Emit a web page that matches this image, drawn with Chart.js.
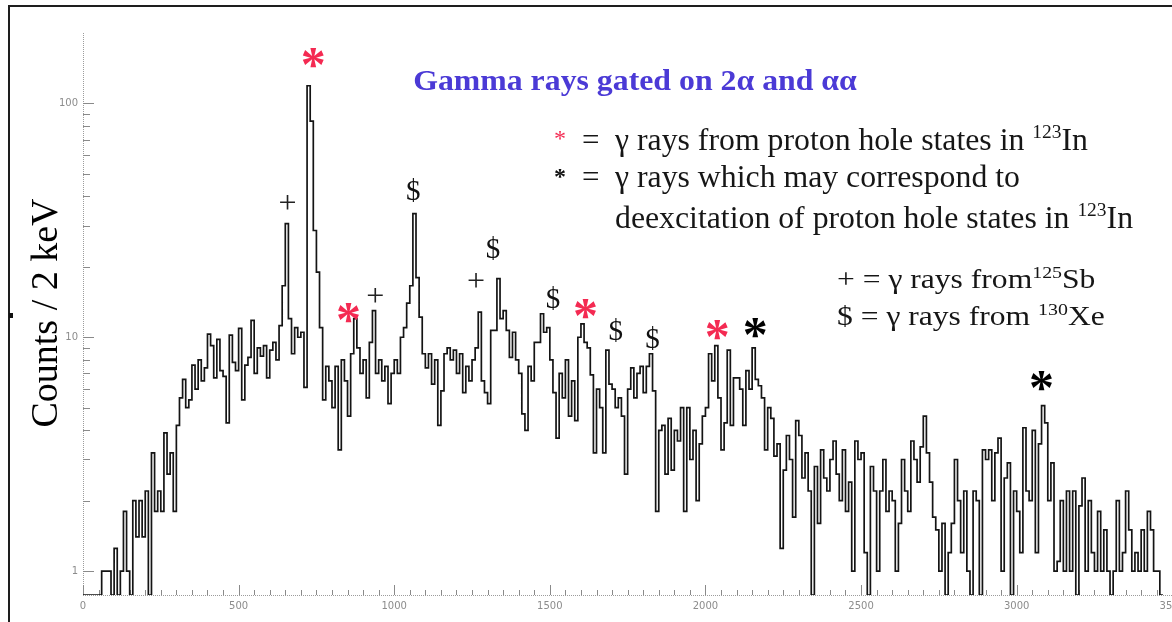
<!DOCTYPE html>
<html>
<head>
<meta charset="utf-8">
<title>Gamma rays gated on 2α and αα</title>
<script src="https://cdn.jsdelivr.net/npm/chart.js@4.4.1/dist/chart.umd.min.js"></script>
<style>
  html, body { margin: 0; padding: 0; background: #fff; overflow: hidden; }
  #wrap { position: relative; width: 1172px; height: 622px; overflow: hidden; }
  #spectrum { position: absolute; left: 0; top: 0; }
</style>
</head>
<body>
<div id="wrap"><canvas id="spectrum" width="1190" height="622"></canvas></div>
<script>
// Gamma-ray spectrum, counts per 10 keV bin (bin start = index * binWidthKeV)
const binWidthKeV = 10;

const counts0000 = [
  0, 0, 0, 0, 0, 0, 1, 1, 1, 0,
  1.25, 0, 1, 1.8, 1, 0, 2, 1.4, 2, 1.4,
  2.2, 0, 3.2, 1.8, 2.2, 1.8, 3.9, 2.6, 3.2, 1.8,
  4.2, 5.5, 6.6, 5, 5.4, 7.6, 6, 8, 6.5, 7.4,
  10.3, 9.2, 6.7, 9.8, 7.2, 6.8, 4.3, 10.2, 7.8, 7.2
];
const counts0500 = [
  10.9, 5.4, 7.6, 8.2, 11.8, 7, 9, 8.3, 9.2, 6.7,
  8.8, 9.5, 8, 11.2, 16.6, 30.6, 12, 8.5, 11, 10,
  10.5, 6.1, 119, 84, 28.6, 19, 11, 5.4, 7.5, 6.5,
  5, 7.5, 3.3, 8, 6.5, 4.6, 8.5, 12, 9, 7,
  8, 5.5, 9.5, 13, 7, 8, 6.5, 7.5, 5.2, 7
];
const counts1000 = [
  8, 7, 10, 11, 14, 16.6, 33.8, 18, 12.2, 8.5,
  7.4, 8.5, 6.3, 8, 4.2, 5.9, 8.5, 9, 8, 8.8,
  7, 8.5, 5.8, 7.5, 6.5, 8, 9, 12.8, 6.5, 5.8,
  5.2, 10.7, 10.7, 17.8, 12, 13, 10.7, 8.2, 10.5, 8,
  7, 4.7, 4, 7.5, 6.5, 9.5, 9.5, 12.6, 10.5, 11
];
const counts1500 = [
  8, 5.8, 3.7, 7, 5.5, 8, 4.6, 6.5, 4.4, 10,
  11.4, 9.5, 9, 6.9, 3.2, 6, 5, 3.2, 8.8, 6.3,
  6, 5, 5.5, 4.6, 2.6, 6, 7.4, 5.5, 7, 7.5,
  5.8, 7.5, 8.5, 5.9, 1.8, 4, 4.2, 2.6, 4.5, 2.7,
  4, 3.6, 5, 1.8, 5, 3, 4, 2, 3.5, 4.6
];
const counts2000 = [
  5, 8.5, 6.5, 9.2, 5.5, 3.3, 4.3, 8.8, 4.2, 6.7,
  6.7, 6, 4.2, 7.2, 6, 9, 6.6, 6.2, 5.5, 3.3,
  5, 4.5, 3.1, 3.5, 1.25, 2.7, 3.8, 3, 1.7, 4.4,
  3.8, 2.5, 3.2, 2.2, 0, 2.8, 1.6, 3.3, 2.5, 2.2,
  3, 3.6, 2.6, 2, 3.3, 1.8, 2.4, 1, 3.6, 3
];
const counts2500 = [
  3.2, 1.2, 0, 2.8, 2.2, 1, 2.2, 3, 1.8, 2.2,
  2, 1, 1.6, 3, 2.2, 1.8, 3.6, 3, 2.4, 3.4,
  4.6, 3.2, 2.4, 1.7, 1.5, 1, 1.6, 0, 1.2, 1.6,
  3, 2, 1.2, 2.2, 1, 0, 2.2, 2, 0, 3.3,
  3, 3.3, 2, 3.2, 3.7, 1, 2.5, 2.9, 0, 2.2
];
const counts3000 = [
  1.8, 1.2, 4.1, 2.2, 2, 4, 1.2, 3.5, 5.1, 4.3,
  2, 2.9, 1, 1.1, 2, 1, 2.2, 1, 2.2, 0,
  1.9, 2.5, 1, 2, 1.2, 1, 1.8, 1, 1.5, 1,
  0, 1, 2, 1, 1.2, 2.2, 1.5, 1, 1.2, 1,
  1.5, 1, 1.8, 1.5, 1, 1, 0
];

// Peak identification marks: symbol, label position (keV, counts), colour group
const markSymbols = ['*', '+', '$', '*', '+', '+', '$', '$', '*', '$', '$', '*', '*', '*'];
const markEnergyKeV = [740, 657, 1061, 853, 939, 1263, 1317, 1510, 1615, 1712, 1830, 2038, 2160, 3080];
const markCounts = [157, 37.8, 42.5, 12.7, 15.1, 17.5, 24, 14.7, 13.2, 10.7, 9.9, 10.7, 10.9, 6.5];
const markGroup = ['proton', 'sb', 'xe', 'proton', 'sb', 'sb', 'xe', 'xe', 'proton', 'xe', 'xe', 'proton', 'maybe', 'maybe'];

// Axis ranges and tick labels
const energyMin = 0, energyMax = 3500, energyStep = 500, energyMinorStep = 50;
const countMin = 0.79, countMax = 200;
const countTickLabels = [1, 10, 100];

const RED = '#f42a52';
const INK = '#161616';

const allCounts = [].concat(counts0000, counts0500, counts1000, counts1500, counts2000, counts2500, counts3000);
// empty bins rest on the lower edge of the log axis
const histPoints = allCounts.map((c, i) => ({ x: i * binWidthKeV, y: c > 0 ? c : countMin }));
histPoints.push({ x: allCounts.length * binWidthKeV, y: histPoints[histPoints.length - 1].y });

const markColour = { proton: RED, maybe: '#000', sb: '#222', xe: '#111' };
const markFont = {
  '*': 'bold 50px "Liberation Serif"',
  '+': '32px "Liberation Serif"',
  '$': '29px "Liberation Serif"'
};

// axis lines with inward ticks
const axisTicks = {
  id: 'axisTicks',
  beforeDatasetsDraw(chart) {
    const { ctx, chartArea: a, scales: { x, y } } = chart;
    ctx.save();
    ctx.strokeStyle = '#9c9c9c';
    ctx.lineWidth = 1;
    ctx.setLineDash([1, 1]);
    ctx.beginPath();
    ctx.moveTo(a.left + 0.5, a.top);
    ctx.lineTo(a.left + 0.5, a.bottom);
    ctx.moveTo(a.left, a.bottom + 0.5);
    ctx.lineTo(a.right, a.bottom + 0.5);
    ctx.stroke();
    ctx.setLineDash([]);
    ctx.strokeStyle = '#8a8a8a';
    ctx.beginPath();
    for (let e = energyMin; e <= energyMax; e += energyMinorStep) {
      const px = Math.round(x.getPixelForValue(e)) + 0.5;
      const len = e % energyStep === 0 ? 10 : 5;
      ctx.moveTo(px, a.bottom);
      ctx.lineTo(px, a.bottom - len);
    }
    for (const decade of [1, 10, 100]) {
      for (let k = 1; k <= 9; k++) {
        const v = k * decade;
        if (v < countMin || v >= countMax) continue;
        const py = Math.round(y.getPixelForValue(v)) + 0.5;
        ctx.moveTo(a.left, py);
        ctx.lineTo(a.left + (k === 1 ? 11 : 7), py);
      }
    }
    ctx.stroke();
    ctx.restore();
  }
};

// peak markers placed through the scales
const peakMarks = {
  id: 'peakMarks',
  afterDatasetsDraw(chart) {
    const { ctx, scales: { x, y } } = chart;
    ctx.save();
    ctx.textAlign = 'center';
    ctx.textBaseline = 'alphabetic';
    markSymbols.forEach((s, i) => {
      const px = x.getPixelForValue(markEnergyKeV[i]);
      const py = y.getPixelForValue(markCounts[i]);
      ctx.font = markFont[s];
      ctx.fillStyle = markColour[markGroup[i]];
      const m = ctx.measureText(s);
      ctx.fillText(s, px, py + (m.actualBoundingBoxAscent - m.actualBoundingBoxDescent) / 2);
    });
    ctx.restore();
  }
};

// runs of text with superscripts; sx widens the run horizontally
function richText(ctx, x, base, parts, sx) {
  ctx.save();
  ctx.translate(x, base);
  ctx.scale(sx || 1, 1);
  let cx = 0;
  for (const p of parts) {
    ctx.font = (p.bold ? 'bold ' : '') + p.size + 'px "Liberation Serif"';
    ctx.fillStyle = p.color || INK;
    ctx.fillText(p.t, cx, -(p.rise || 0));
    cx += ctx.measureText(p.t).width;
  }
  ctx.restore();
}

function glyphCentered(ctx, s, font, color, cx, cy) {
  ctx.font = font;
  ctx.fillStyle = color;
  ctx.textAlign = 'center';
  const m = ctx.measureText(s);
  ctx.fillText(s, cx, cy + (m.actualBoundingBoxAscent - m.actualBoundingBoxDescent) / 2);
  ctx.textAlign = 'left';
}

// title, key, axis title and frame
const page = {
  id: 'page',
  afterDraw(chart) {
    const { ctx } = chart;
    ctx.save();
    // frame
    ctx.strokeStyle = '#1e1e1e';
    ctx.lineWidth = 2;
    ctx.beginPath();
    ctx.moveTo(9, 640);
    ctx.lineTo(9, 6);
    ctx.lineTo(1200, 6);
    ctx.stroke();
    ctx.fillStyle = '#111';
    ctx.fillRect(9, 313, 4, 5);

    ctx.textBaseline = 'alphabetic';
    // title
    ctx.save();
    ctx.translate(635, 90);
    ctx.scale(1.06, 1);
    ctx.textAlign = 'center';
    ctx.font = 'bold 30px "Liberation Serif"';
    ctx.fillStyle = '#4b3ad6';
    ctx.fillText('Gamma rays gated on 2α and αα', 0, 0);
    ctx.restore();
    ctx.textAlign = 'left';

    // key
    glyphCentered(ctx, '*', '24px "Liberation Serif"', RED, 560, 135);
    glyphCentered(ctx, '*', 'bold 24px "Liberation Serif"', '#111', 560, 173);
    ctx.font = '31px "Liberation Serif"';
    ctx.fillStyle = INK;
    ctx.fillText('=', 582, 150);
    ctx.fillText('=', 582, 187);
    richText(ctx, 615, 150, [
      { t: 'γ rays from proton hole states in ', size: 31 },
      { t: '123', size: 19, rise: 12 },
      { t: 'In', size: 31 }
    ], 1.025);
    richText(ctx, 615, 187, [{ t: 'γ rays which may correspond to', size: 31 }], 1.025);
    richText(ctx, 615, 228, [
      { t: 'deexcitation of proton hole states in ', size: 31 },
      { t: '123', size: 19, rise: 12 },
      { t: 'In', size: 31 }
    ], 1.025);
    richText(ctx, 837, 288, [
      { t: '+ = γ rays from', size: 27 },
      { t: '125', size: 17, rise: 10 },
      { t: 'Sb', size: 27 }
    ], 1.17);
    richText(ctx, 837, 325, [
      { t: '$ = γ rays from ', size: 27 },
      { t: '130', size: 17, rise: 10 },
      { t: 'Xe', size: 27 }
    ], 1.17);

    // y axis title
    ctx.translate(57, 313);
    ctx.rotate(-Math.PI / 2);
    ctx.textAlign = 'center';
    ctx.font = '38px "Liberation Serif"';
    ctx.fillStyle = '#000';
    ctx.fillText('Counts / 2 keV', 0, 0);
    ctx.restore();
  }
};

new Chart(document.getElementById('spectrum'), {
  type: 'line',
  data: {
    datasets: [{
      data: histPoints,
      stepped: 'before',
      borderColor: '#141414',
      borderWidth: 1.7,
      pointRadius: 0,
      fill: false,
      tension: 0
    }]
  },
  options: {
    responsive: false,
    animation: false,
    events: [],
    layout: { padding: { left: 8, top: 33, right: 15, bottom: 0 } },
    plugins: { legend: { display: false }, tooltip: { enabled: false }, title: { display: false } },
    scales: {
      x: {
        type: 'linear',
        min: energyMin,
        max: energyMax,
        grid: { display: false, drawTicks: false },
        border: { display: false },
        ticks: {
          stepSize: energyStep,
          autoSkip: false,
          maxRotation: 0,
          padding: 5,
          color: '#8c8c8c',
          font: { family: 'DejaVu Sans', size: 10 },
          callback: (v) => String(v)
        },
        afterFit(s) { s.height = 27; }
      },
      y: {
        type: 'logarithmic',
        min: countMin,
        max: countMax,
        grid: { display: false, drawTicks: false },
        border: { display: false },
        ticks: {
          autoSkip: false,
          padding: 5,
          color: '#8c8c8c',
          font: { family: 'DejaVu Sans', size: 10 },
          callback: (v) => countTickLabels.includes(v) ? String(v) : ''
        },
        afterFit(s) { s.width = 75; }
      }
    }
  },
  plugins: [axisTicks, peakMarks, page]
});
</script>
</body>
</html>
